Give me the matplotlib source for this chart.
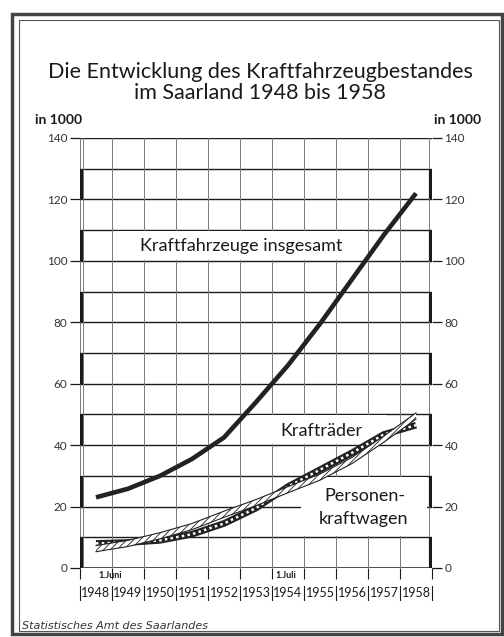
import matplotlib
matplotlib.use('Agg')
import matplotlib.pyplot as plt
from matplotlib.patches import Rectangle
from matplotlib.lines import Line2D
import matplotlib.transforms as mtrans

# ---------------- data ----------------
stichtage = [1948.5, 1949.5, 1950.5, 1951.5, 1952.5, 1953.5,
             1954.5, 1955.5, 1956.5, 1957.5, 1958.5]
insgesamt = [23, 25.8, 30, 35.5, 42.5, 54, 66, 79.5, 94, 108.5, 122]
kraftraeder = [8, 8.3, 9, 11, 14.5, 19.5, 26.5, 32, 37.5, 43.5, 46.5]
pkw = [6.3, 8.0, 10.5, 13.5, 17.5, 21.3, 25.5, 29.6, 35, 42, 49.5]

year_labels = ['1948', '1949', '1950', '1951', '1952', '1953',
               '1954', '1955', '1956', '1957', '1958']
y_ticks = [0, 20, 40, 60, 80, 100, 120, 140]

title1 = 'Die Entwicklung des Kraftfahrzeugbestandes'
title2 = 'im Saarland 1948 bis 1958'
unit = 'in 1000'
source = 'Statistisches Amt des Saarlandes'

# ---------------- figure ----------------
W, H = 504, 637
fig = plt.figure(figsize=(W / 100, H / 100), dpi=100)
fig.patch.set_facecolor('white')

def fx(px):
    return px / W

def fy(py):
    return 1 - py / H

ax = fig.add_axes([fx(80), fy(568), fx(432) - fx(80), fy(138) - fy(568)])
ax.set_xlim(1948, 1959)
ax.set_ylim(0, 140)
for s in ax.spines.values():
    s.set_visible(False)
ax.set_facecolor('none')

ink = '#1a1a1a'
FONT = ['Lato', 'DejaVu Sans']

# horizontal grid lines every 10
ax.hlines(list(range(10, 141, 10)), 1948, 1959, colors=ink, lw=1.0, zorder=1)
ax.hlines([0], 1948, 1959, colors=ink, lw=1.1, zorder=1)

# vertical grid lines at year boundaries
for xv in list(range(1949, 1959)) + [1948.0, 1948.09, 1958.91, 1959.0]:
    ax.plot([xv, xv], [0, 140], color='#7a7a7a', lw=0.7, zorder=1.5)

# thick bars on both edges for alternate bands
for b in range(0, 140, 20):
    ax.plot([1948.03, 1948.03], [b, b + 10], color=ink, lw=3.0,
            solid_capstyle='butt', zorder=5)
    ax.plot([1958.97, 1958.97], [b, b + 10], color=ink, lw=3.0,
            solid_capstyle='butt', zorder=5)

# white label boxes
ax.add_patch(Rectangle((1949.05, 100.3), 7.9, 9.4, facecolor='white',
                       edgecolor='none', zorder=2))
ax.add_patch(Rectangle((1953.3, 40.3), 4.3, 9.4, facecolor='white',
                       edgecolor='none', zorder=2))
ax.add_patch(Rectangle((1954.9, 10.3), 3.95, 19.4, facecolor='white',
                       edgecolor='none', zorder=2))

# labels in boxes
ax.text(1953.05, 105, 'Kraftfahrzeuge insgesamt', ha='center', va='center',
        fontsize=13, family=FONT, color=ink, zorder=3)
ax.text(1955.55, 44.7, 'Krafträder', ha='center', va='center',
        fontsize=13, family=FONT, color=ink, zorder=3)
ax.text(1956.9, 23.6, 'Personen-', ha='center', va='center',
        fontsize=13, family=FONT, color=ink, zorder=3)
ax.text(1956.85, 15.8, 'kraftwagen', ha='center', va='center',
        fontsize=13, family=FONT, color=ink, zorder=3)

# total line
ax.plot(stichtage, insgesamt, color='#222222', lw=3.3,
        solid_capstyle='butt', solid_joinstyle='round', zorder=6)

# Kraftraeder: dark band with white dots
ax.plot(stichtage, kraftraeder, color='#222222', lw=4.8,
        solid_capstyle='butt', solid_joinstyle='round', zorder=6)
ax.plot(stichtage, kraftraeder, color='white', lw=1.8,
        ls=(0, (1.0, 1.3)), dash_capstyle='butt', zorder=7)

# Pkw: hatched band
plt.rcParams['hatch.linewidth'] = 0.6
lo = [v - 1.0 for v in pkw]
hi = [v + 1.0 for v in pkw]
ax.fill_between(stichtage, lo, hi, facecolor='white', edgecolor='#222222',
                hatch='/////', lw=0, zorder=8)
ax.plot(stichtage, lo, color='#222222', lw=0.8, zorder=9)
ax.plot(stichtage, hi, color='#222222', lw=0.8, zorder=9)

# y ticks (both sides)
ax.set_yticks(y_ticks)
ax.set_yticklabels([str(v) for v in y_ticks])
ax.tick_params(axis='y', which='both', left=True, right=True,
               labelleft=True, labelright=True, length=7, width=0.9,
               color=ink, labelsize=8.5, labelcolor='#333333', pad=2)
for lab in ax.get_yticklabels():
    lab.set_family(FONT)

# x ticks at year boundaries
ax.set_xticks(range(1948, 1960))
ax.set_xticklabels([])
ax.tick_params(axis='x', length=8, width=0.8, color=ink, direction='out')

trans = mtrans.blended_transform_factory(ax.transData, ax.transAxes)
for i, lab in enumerate(year_labels):
    ax.text(1948.5 + i, -0.058, lab, transform=trans, ha='center',
            va='center', fontsize=9, family=FONT, color=ink)
for yr in range(1948, 1960):
    ax.add_line(Line2D([yr, yr], [-0.075, -0.041], transform=trans,
                       color=ink, lw=0.8, clip_on=False))
ax.text(1948.94, -0.018, '1.Juni', transform=trans, ha='center',
        va='center', fontsize=6.5, family=FONT, color=ink, weight='bold')
ax.text(1954.44, -0.018, '1.Juli', transform=trans, ha='center',
        va='center', fontsize=6.5, family=FONT, color=ink, weight='bold')

# titles and texts
fig.text(fx(260), fy(78), title1, ha='center', va='baseline',
         fontsize=15.5, family=FONT, color=ink)
fig.text(fx(260), fy(99), title2, ha='center', va='baseline',
         fontsize=15.5, family=FONT, color=ink)
fig.text(fx(35), fy(124), unit, ha='left', va='baseline',
         fontsize=10, family=FONT, color=ink, weight='bold')
fig.text(fx(481), fy(124), unit, ha='right', va='baseline',
         fontsize=10, family=FONT, color=ink, weight='bold')
fig.text(fx(22), fy(629), source, ha='left', va='baseline',
         fontsize=8, family='DejaVu Sans', style='italic', color='#333333')

# frame
fig.add_artist(Rectangle((fx(12), fy(634)), fx(502) - fx(12), fy(14) - fy(634),
                         transform=fig.transFigure, fill=False,
                         edgecolor='#444444', lw=2.5))
fig.add_artist(Rectangle((fx(18.5), fy(630.5)), fx(499) - fx(18.5),
                         fy(20) - fy(630.5), transform=fig.transFigure,
                         fill=False, edgecolor='#555555', lw=0.8))

fig.savefig('out.png', dpi=100, facecolor='white')
